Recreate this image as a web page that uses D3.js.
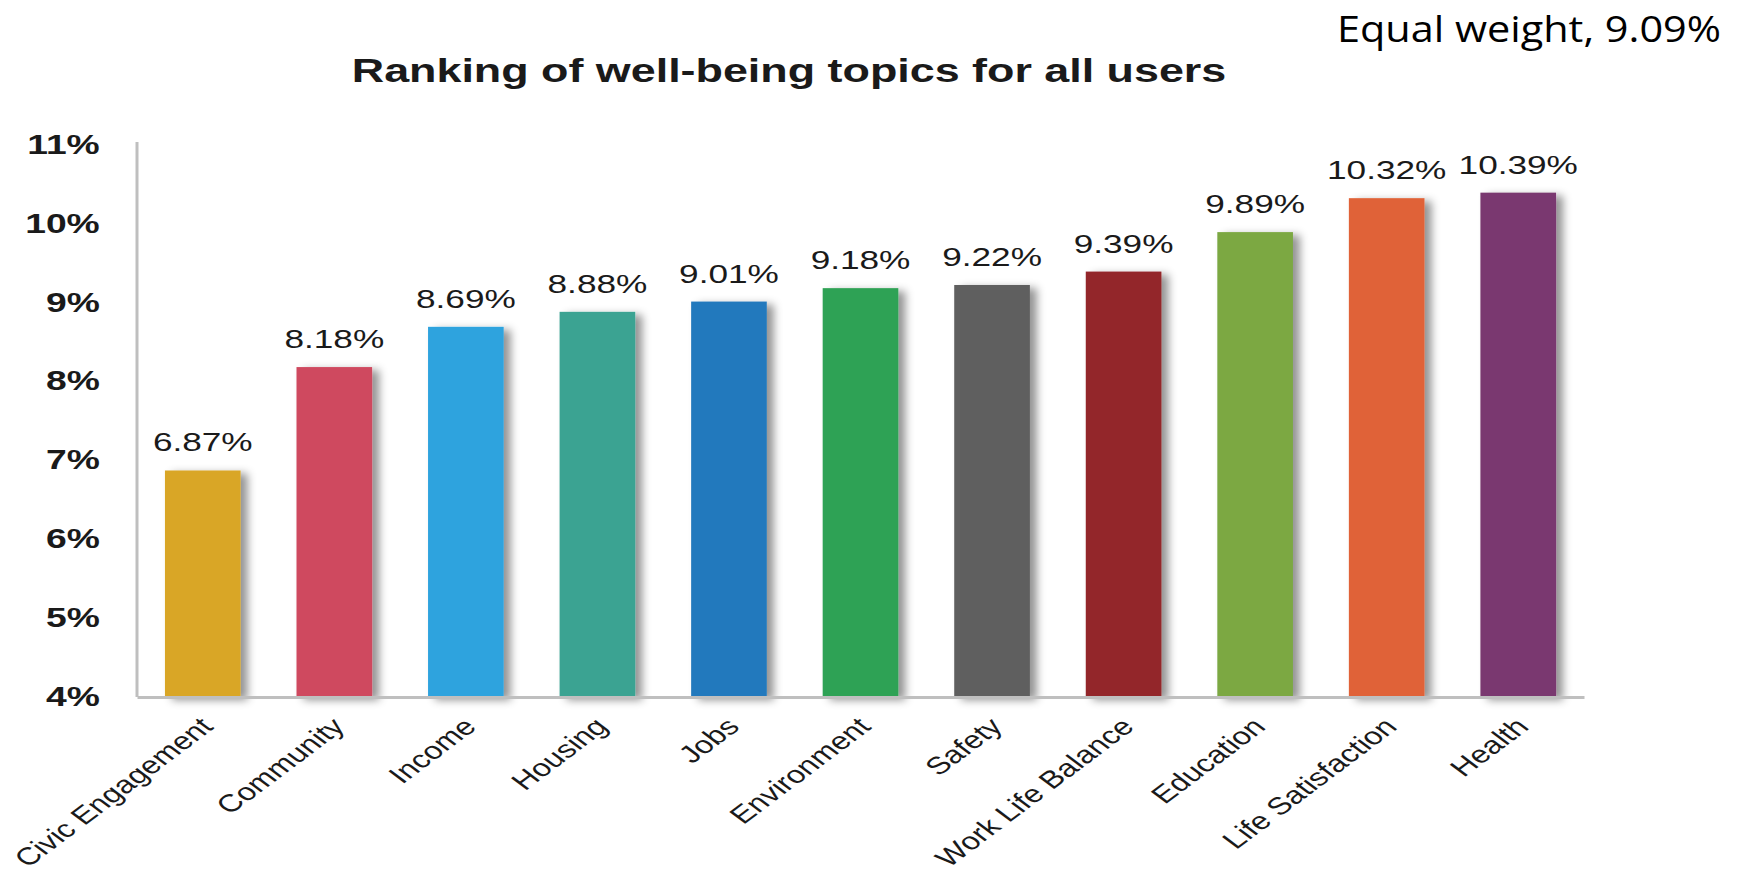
<!DOCTYPE html>
<html>
<head>
<meta charset="utf-8">
<script src="https://cdn.jsdelivr.net/npm/d3@7"></script>
<style>
  body { margin: 0; background: #fff; }
  text { font-family: "Liberation Sans", Arial, sans-serif; fill: #1a1a1a; }
</style>
</head>
<body>
<div id="chart"></div>
<script>
// data
var topics = ["Civic Engagement", "Community", "Income", "Housing", "Jobs", "Environment",
  "Safety", "Work Life Balance", "Education", "Life Satisfaction", "Health"];
var shares = [6.87, 8.18, 8.69, 8.88, 9.01, 9.18, 9.22, 9.39, 9.89, 10.32, 10.39];
var barColors = ["#d9a627", "#cf495e", "#2fa3de", "#3ba392", "#2479bd", "#2ea254",
  "#5e5e5e", "#93272b", "#7ba843", "#e06238", "#7a386f"];
var yTicks = [4, 5, 6, 7, 8, 9, 10, 11];

var width = 1743;
var height = 875;
var sx = 1.38; // original picture was stretched sideways

var svg = d3.select('#chart')
  .append('svg')
  .attr('width', width)
  .attr('height', height);

// soft shadow behind bars
var defs = svg.append('defs');
var f = defs.append('filter').attr('id', 'shadow')
  .attr('x', '-20%').attr('y', '-5%').attr('width', '160%').attr('height', '115%');
f.append('feDropShadow')
  .attr('dx', 7).attr('dy', 3).attr('stdDeviation', 4)
  .attr('flood-color', '#000').attr('flood-opacity', 0.42);

var x = d3.scaleBand()
  .domain(topics)
  .range([137, 1584])
  .paddingInner(0.425)
  .paddingOuter(0.2125);

var y = d3.scaleLinear()
  .domain([4, 11])
  .range([697, 144.5]);

// title
svg.append('text')
  .attr('transform', 'translate(789,82) scale(' + sx + ',1)')
  .attr('text-anchor', 'middle')
  .style('font-size', '32.5px')
  .style('font-weight', 'bold')
  .text('Ranking of well-being topics for all users');

svg.append('text')
  .attr('x', 1337)
  .attr('y', 42)
  .attr('textLength', 384)
  .attr('lengthAdjust', 'spacingAndGlyphs')
  .style('font-family', '"Open Sans", "Noto Sans", sans-serif')
  .style('font-size', '37px')
  .style('fill', '#000')
  .text('Equal weight, 9.09%');

// bars
var data = topics.map(function(t, i) { return {topic: t, value: shares[i], color: barColors[i]}; });

svg.append('g')
  .selectAll('rect')
  .data(data)
  .enter()
  .append('rect')
  .attr('x', function(d) { return x(d.topic); })
  .attr('y', function(d) { return y(d.value); })
  .attr('width', x.bandwidth())
  .attr('height', function(d) { return y(4) - y(d.value); })
  .attr('fill', function(d) { return d.color; })
  .attr('filter', 'url(#shadow)');

// value labels
svg.append('g')
  .selectAll('text')
  .data(data)
  .enter()
  .append('text')
  .attr('text-anchor', 'middle')
  .attr('transform', function(d) {
    return 'translate(' + (x(d.topic) + x.bandwidth() / 2) + ',' + (y(d.value) - 19) + ') scale(' + sx + ',1)';
  })
  .style('font-size', '25.5px')
  .text(function(d) { return d.value.toFixed(2) + '%'; });

// y axis
var yAxis = svg.append('g')
  .attr('transform', 'translate(137,0)')
  .call(d3.axisLeft(y).tickValues(yTicks).tickSize(0).tickPadding(27)
    .tickFormat(function(d) { return d + '%'; }));

yAxis.select('.domain')
  .attr('d', 'M0,' + 142 + 'V' + y(4))
  .attr('stroke', '#bfbfbf')
  .attr('stroke-width', 3);

yAxis.selectAll('text')
  .attr('transform', 'scale(' + sx + ',1)')
  .attr('x', -27)
  .style('font-size', '27px')
  .style('font-weight', 'bold')
  .style('fill', '#1a1a1a');

// x axis
var xAxis = svg.append('g')
  .attr('transform', 'translate(0,' + y(4) + ')')
  .call(d3.axisBottom(x).tickSize(0));

xAxis.select('.domain')
  .attr('stroke', '#bfbfbf')
  .attr('stroke-width', 3);

xAxis.selectAll('text')
  .attr('x', 0)
  .attr('y', 0)
  .attr('dy', 0)
  .attr('text-anchor', 'end')
  .attr('transform', 'translate(12,31) scale(1.33,1) rotate(-45)')
  .style('font-size', '24.5px')
  .style('fill', '#1a1a1a');

svg.selectAll('.tick text').style('font-family', '"Liberation Sans", Arial, sans-serif');
</script>
</body>
</html>
